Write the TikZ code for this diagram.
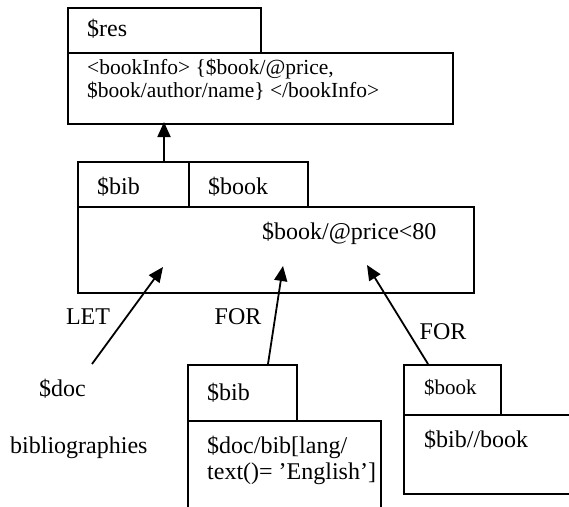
\documentclass[tikz,border=0pt]{standalone}
\usepackage{fontspec}
\setmainfont{Liberation Serif}
\usetikzlibrary{arrows.meta}
\begin{document}
\begin{tikzpicture}[x=1pt,y=-1pt,
  frame/.style={draw=black,line width=1.8pt,rectangle,inner sep=0pt,anchor=north west},
  txt/.style={inner sep=0pt,anchor=west,font=\fontsize{24}{26}\selectfont},
  small/.style={inner sep=0pt,anchor=west,font=\fontsize{21.5}{23}\selectfont,align=left},
  flow/.style={line width=1.8pt,-{Triangle[length=15pt,width=13pt]}}]
\useasboundingbox (0,0) rectangle (569,506);

% result block
\node[frame,minimum width=193pt,minimum height=45pt] (restab) at (67,7) {};
\node[frame,minimum width=385pt,minimum height=71pt] (resbody) at (67,52) {};
\node[txt] (reslbl) at (87,29) {\$res};
\node[small] (rescontent) at (87,79.5) {<bookInfo> \{\$book/@price,\\\$book/author/name\} </bookInfo>};

% where block with two variables
\node[frame,minimum width=111pt,minimum height=45pt] (wbibtab) at (77,161) {};
\node[frame,minimum width=119pt,minimum height=45pt] (wbooktab) at (188,161) {};
\node[frame,minimum width=396pt,minimum height=86pt] (wbody) at (77,206) {};
\node[txt] (wbiblbl) at (97,187) {\$bib};
\node[txt] (wbooklbl) at (208,187) {\$book};
\node[txt] (wcond) at (262,233) {\$book/@price<80};

% lower left source
\node[txt] (doclbl) at (39,389) {\$doc};
\node[txt] (biblio) at (10,448) {bibliographies};

% lower middle block
\node[frame,minimum width=109pt,minimum height=56pt] (lbibtab) at (187,364) {};
\node[frame,minimum width=193pt,minimum height=100pt] (lbibbody) at (187,420) {};
\node[txt] (lbiblbl) at (207,393) {\$bib};
\node[txt,align=left] (lbibexpr) at (207,460) {\$doc/bib[lang/\\text()= ’English’]};

% lower right block
\node[frame,minimum width=97pt,minimum height=50pt] (lbooktab) at (403,364) {};
\node[frame,minimum width=180pt,minimum height=79pt] (lbookbody) at (403,414) {};
\node[txt,font=\fontsize{21}{24}\selectfont] (lbooklbl) at (424,388) {\$book};
\node[txt] (lbookexpr) at (424,440) {\$bib//book};

% edge labels
\node[txt,anchor=center] (letlbl) at (88,317) {LET};
\node[txt,anchor=center] (for1lbl) at (238,317) {FOR};
\node[txt,anchor=center] (for2lbl) at (443,332) {FOR};

% connector ends
\coordinate (upstart) at (164,161);
\coordinate (upend) at (164,122);
\coordinate (letstart) at (92,364);
\coordinate (letend) at (163,267);
\coordinate (for1start) at (268,364);
\coordinate (for1end) at (283,266);
\coordinate (for2start) at (428,364);
\coordinate (for2end) at (367,265);

\draw[flow] (upstart) -- (upend);
\draw[flow] (letstart) -- (letend);
\draw[flow] (for1start) -- (for1end);
\draw[flow] (for2start) -- (for2end);
\end{tikzpicture}
\end{document}
